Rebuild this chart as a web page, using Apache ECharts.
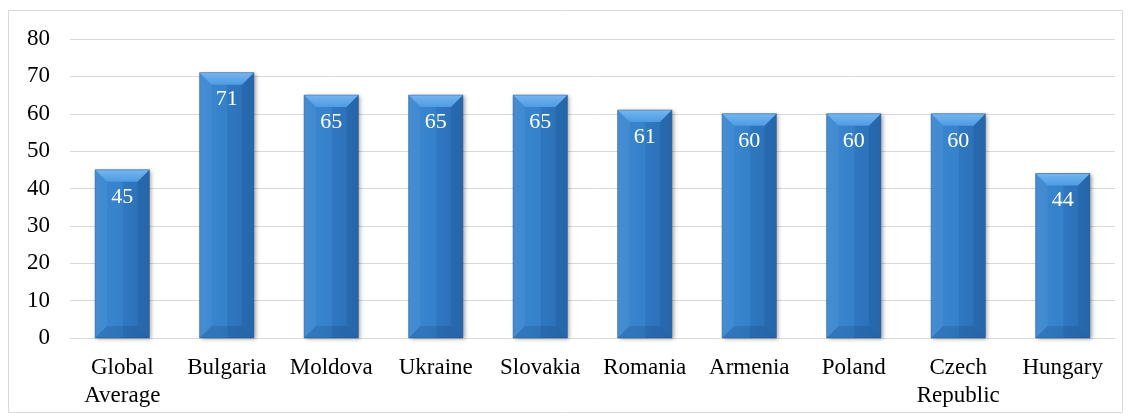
<!DOCTYPE html>
<html><head><meta charset="utf-8">
<script src="https://cdn.jsdelivr.net/npm/echarts@6/dist/echarts.min.js"></script>
<style>html,body{margin:0;padding:0;background:#fff}#c{width:1132px;height:416px}</style>
</head><body><div id="c"></div>
<script>
const categories = ['Global\nAverage','Bulgaria','Moldova','Ukraine','Slovakia','Romania','Armenia','Poland','Czech\nRepublic','Hungary'];
const values = [45,71,65,65,65,61,60,60,60,44];
const yTicks = {min:0,max:80,interval:10};

const chart = echarts.init(document.getElementById('c'));
const font = '"Liberation Serif","Times New Roman",serif';
function renderItem(params, api){
  const v = api.value(1);
  const top = api.coord([api.value(0), v]);
  const base = api.coord([api.value(0), 0]);
  const w = api.size([1,0])[0]*0.52;
  const x0 = top[0]-w/2, x1 = top[0]+w/2, y0 = top[1], y1 = base[1];
  const b = Math.min(12, (y1-y0)/2, w/2);
  return {type:'group', children:[
    {type:'rect', shape:{x:x0,y:y0,width:w,height:y1-y0}, style:{fill:new echarts.graphic.LinearGradient(0,0,1,0,[{offset:0,color:'#3a87d1'},{offset:0.5,color:'#3581ca'},{offset:0.52,color:'#2f77c0'},{offset:1,color:'#2a6fb5'}]), shadowColor:'rgba(0,0,0,0.35)', shadowBlur:4, shadowOffsetX:2, shadowOffsetY:1}},
    {type:'polygon', shape:{points:[[x0,y0],[x0+b,y0+b],[x0+b,y1-b],[x0,y1]]}, style:{fill:'rgba(255,255,255,0.05)'}},
    {type:'polygon', shape:{points:[[x1,y0],[x1-b,y0+b],[x1-b,y1-b],[x1,y1]]}, style:{fill:'rgba(0,0,40,0.08)'}},
    {type:'polygon', shape:{points:[[x0,y0],[x1,y0],[x1-b,y0+b],[x0+b,y0+b]]}, style:{fill:new echarts.graphic.LinearGradient(0,0,0,1,[{offset:0,color:'#74b6f0'},{offset:1,color:'#4f9be2'}])}},
    {type:'polygon', shape:{points:[[x0,y1],[x1,y1],[x1-b,y1-b],[x0+b,y1-b]]}, style:{fill:'rgba(0,20,60,0.12)'}},
    {type:'rect', shape:{x:x0,y:y0,width:w,height:y1-y0}, style:{fill:'none',stroke:'rgba(30,80,140,0.45)',lineWidth:1}},
    {type:'text', style:{text:String(v), x:top[0], y:y0+27, align:'center', verticalAlign:'middle', fill:'#ffffff', font:'22px '+font}}
  ]};
}
chart.setOption({
  animation:false,
  graphic:[{type:'rect', shape:{x:8.5,y:10.5,width:1114,height:402}, style:{fill:'none',stroke:'#d9d9d9',lineWidth:1}, z:-1}],
  grid:{left:70,right:17,top:39,bottom:78},
  xAxis:{type:'category', data:categories,
    axisLine:{lineStyle:{color:'#d9d9d9',width:1}}, axisTick:{show:false},
    axisLabel:{color:'#000', fontFamily:font, fontSize:23, lineHeight:28, margin:16, interval:0}},
  yAxis:{type:'value', min:yTicks.min, max:yTicks.max, interval:yTicks.interval,
    axisLine:{show:false}, axisTick:{show:false},
    splitLine:{lineStyle:{color:'#d9d9d9',width:1}},
    axisLabel:{color:'#000', fontFamily:font, fontSize:23, margin:20}},
  series:[{type:'custom', renderItem:renderItem, data:values.map((v,i)=>[i,v]), encode:{x:0,y:1}, z:3}]
});
</script></body></html>
